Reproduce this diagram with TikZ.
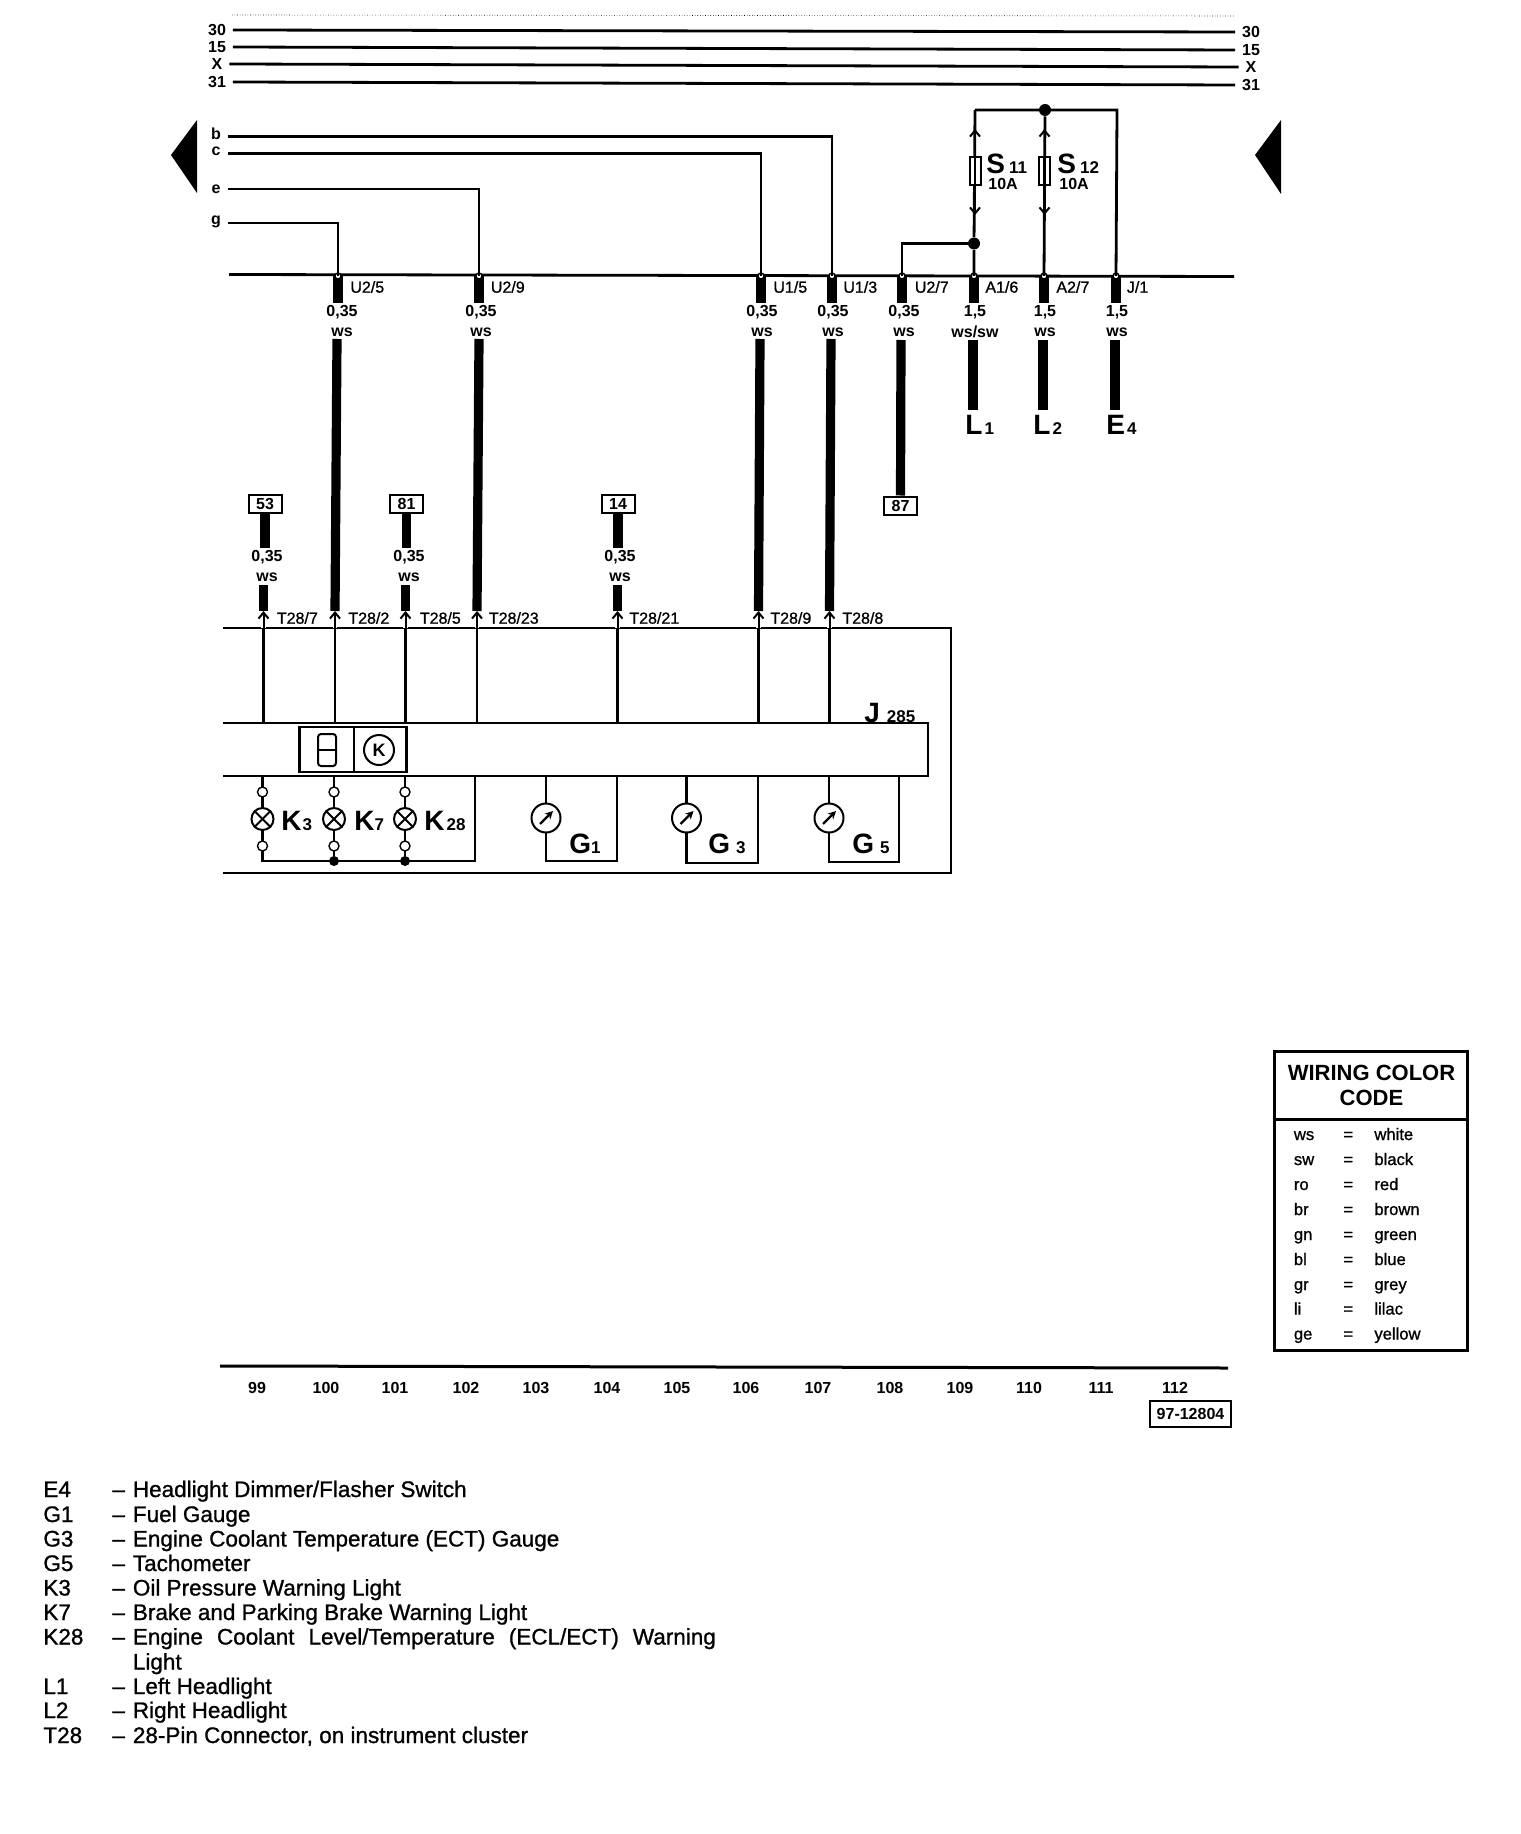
\documentclass[tikz,border=0pt]{standalone}
\usepackage{fontspec}
\setmainfont{Liberation Sans}
\newfontfamily\medfont{Liberation Sans}[RawFeature={embolden=1}]
\usetikzlibrary{calc}
\usetikzlibrary{positioning}
\usetikzlibrary{arrows.meta}
\newcommand{\bigtag}[3][2pt]{#2\hspace{#1}{\fontsize{8.5}{8.5}\selectfont #3}}
\tikzset{
	bus/.style={line width=1.4pt},
	lead/.style={line width=1.2pt},
	heavy/.style={line width=4.6pt},
	pinarrow/.style={line width=1pt,-{Straight Barb[length=3pt,width=5pt]}},
	smalltxt/.style={font=\bfseries\fontsize{8}{8}\selectfont},
	pintxt/.style={font=\medfont\fontsize{8}{8}\selectfont,anchor=west,inner sep=0},
	bigtxt/.style={font=\bfseries\fontsize{14}{14}\selectfont,anchor=base west,inner sep=0},
	termbox/.style={draw,line width=1pt,fill=white,minimum width=16.5pt,minimum height=9pt,inner sep=0,smalltxt},
	ring/.style={circle,draw,fill=white,line width=.7pt,minimum size=3pt,inner sep=0},
	lamp/.style={circle,draw,fill=white,line width=1pt,minimum size=11pt,inner sep=0},
	gaugedial/.style={circle,draw,fill=white,line width=1pt,minimum size=14.5pt,inner sep=0},
	joint/.style={circle,fill=black,minimum size=5pt,inner sep=0},
	fuse/.style={draw,fill=white,line width=1pt,minimum width=5.5pt,minimum height=14pt,inner sep=0},
	listtxt/.style={font=\medfont\fontsize{11.25}{11.25}\selectfont,anchor=base west,inner sep=0},
	codetxt/.style={font=\medfont\fontsize{8.3}{8.3}\selectfont,anchor=base west,inner sep=0},
}
\begin{document}
\begin{tikzpicture}[x=.5pt,y=-.5pt]
	\useasboundingbox (0,0) rectangle (1520,1834);
	% supply rails
	\coordinate (speckW) at (232,15);
	\coordinate (speckE) at (1235,16);
	\draw[densely dotted,line width=.3pt] (speckW) -- (speckE);
	\foreach \n/\txt/\ya/\yb in {a/30/30/32,b/15/47/50,c/X/64/67,d/31/82/85}{
		\node[smalltxt] (railW\n) at (217,\ya) {\txt};
		\node[smalltxt] (railE\n) at (1251,\yb) {\txt};
		\draw[bus] (railW\n.east) -- (railE\n.west);
	}
	% page arrows
	\coordinate (arrLa) at (171,155);
	\coordinate (arrLb) at (197,120);
	\coordinate (arrLc) at (197,193);
	\coordinate (arrRa) at (1255,155);
	\coordinate (arrRb) at (1281,120);
	\coordinate (arrRc) at (1281,194);
	\fill (arrLa) -- (arrLb) -- (arrLc) -- cycle;
	\fill (arrRa) -- (arrRb) -- (arrRc) -- cycle;
	% connector line with its pins
	\coordinate (mainW) at (229,274.5);
	\coordinate (mainE) at (1234,276.5);
	\draw[bus] (mainW) -- (mainE);
	\foreach \p/\xs/\xg/\xl/\pin/\size/\colr in {
		u25/338/342/350/{U2/5}/{0,35}/ws,
		u29/479/481/490.5/{U2/9}/{0,35}/ws,
		u15/761/762/773/{U1/5}/{0,35}/ws,
		u13/832/833/843/{U1/3}/{0,35}/ws,
		u27/902/904/914.5/{U2/7}/{0,35}/ws,
		a16/974/975/985/{A1/6}/{1,5}/{ws/sw},
		a27/1044/1045/1056/{A2/7}/{1,5}/ws,
		j1/1116/1117/1126.5/{J/1}/{1,5}/ws}{
		\coordinate (top\p) at (\xs,276);
		\coordinate (stub\p) at (\xs,303);
		\draw[heavy] (top\p) -- (stub\p);
		\node[ring] (ring\p) at (top\p) {};
		\node[pintxt] (pin\p) at (\xl,287) {\pin};
		\node[smalltxt] (size\p) at (\xg,312) {\size};
		\node[smalltxt] (colr\p) at (\xg,332) {\colr};
	}
	% branches coming in from the left
	\node[smalltxt] (labb) at (216,134) {b};
	\node[smalltxt] (labc) at (216,151) {c};
	\node[smalltxt] (labe) at (216,189) {e};
	\node[smalltxt] (labg) at (216,222) {g};
	\coordinate (bendb) at (832,136.5);
	\coordinate (bendc) at (761,153.5);
	\coordinate (bende) at (479,189);
	\coordinate (bendg) at (338,223);
	\draw[bus] (labb.east |- bendb) -- (bendb) -- (topu13);
	\draw[bus] (labc.east |- bendc) -- (bendc) -- (topu15);
	\draw[bus] (labe.east |- bende) -- (bende) -- (topu29);
	\draw[bus] (labg.east |- bendg) -- (bendg) -- (topu25);
	% fuses
	\coordinate (feedL) at (975,110);
	\coordinate (feedR) at (1117,110);
	\node[joint,minimum size=6pt] (feedJ) at (1045,110) {};
	\node[joint,minimum size=6pt] (splitJ) at (974,243.5) {};
	\coordinate (splitC) at (902,243.5);
	\draw[bus] (feedL) -- (feedR) -- (topj1);
	\draw[bus] (feedL) -- (splitJ) -- (topa16);
	\draw[bus] (feedJ) -- (topa27);
	\draw[bus] (splitJ) -- (splitC) -- (topu27);
	\node[fuse] (fusea) at (975,171) {};
	\node[fuse] (fuseb) at (1044.5,171) {};
	\draw[lead] (fusea.north) -- (fusea.south);
	\draw[lead] (fuseb.north) -- (fuseb.south);
	\foreach \f in {a,b}{
		\path (fuse\f.north) ++(0,-27) coordinate (tipU\f);
		\path (fuse\f.south) ++(0,29) coordinate (tipD\f);
		\draw[pinarrow] (fuse\f.north) -- (tipU\f);
		\draw[pinarrow] (fuse\f.south) -- (tipD\f);
	}
	\node[bigtxt] (s11) at (986,174) {\bigtag{S}{11}};
	\node[bigtxt] (s12) at (1057,174) {\bigtag{S}{12}};
	\node[smalltxt,anchor=base west,inner sep=0] (amp11) at (988,190) {10A};
	\node[smalltxt,anchor=base west,inner sep=0] (amp12) at (1059,190) {10A};
	% wires to the headlights and switch
	\node[bigtxt] (l1) at (965,435) {\bigtag[1pt]{L}{1}};
	\node[bigtxt] (l2) at (1033,435) {\bigtag[1pt]{L}{2}};
	\node[bigtxt] (e4) at (1106,435) {\bigtag[1pt]{E}{4}};
	\foreach \p/\xa in {a16/973,a27/1043,j1/1115}{
		\coordinate (from\p) at (\xa,340);
		\coordinate (to\p) at (\xa,410);
		\draw[heavy] (from\p) -- (to\p);
	}
	\node[termbox] (t87) at (900.5,505.5) {87};
	\coordinate (fromu27) at (901,340);
	\draw[heavy] (fromu27) -- (t87.north);
	% cluster outline
	\coordinate (boxNW) at (223,628);
	\coordinate (boxNE) at (951,628);
	\coordinate (boxSE) at (951,873);
	\coordinate (boxSW) at (223,873);
	\coordinate (barNW) at (223,723);
	\coordinate (barNE) at (928,723);
	\coordinate (barSE) at (928,776);
	\coordinate (barSW) at (223,776);
	\draw[bus] (boxNW) -- (boxNE) -- (boxSE) -- (boxSW);
	\draw[bus] (barNW) -- (barNE) -- (barSE) -- (barSW);
	\node[bigtxt] (j285) at (864,722) {\bigtag[3.5pt]{J}{285}};
	% pins of the cluster connector
	\foreach \i/\xa/\xl/\pin in {
		t7/263.5/276.5/{T28/7},
		t2/335/348/{T28/2},
		t5/405.5/419.5/{T28/5},
		t23/477/488.5/{T28/23},
		t21/617.5/629/{T28/21},
		t9/758.5/770/{T28/9},
		t8/829.5/842/{T28/8}}{
		\coordinate (rail\i) at (\xa,628);
		\coordinate (tip\i) at (\xa,611);
		\coordinate (bar\i) at (\xa,723);
		\draw[lead] (rail\i) -- (bar\i);
		\node[pintxt] (pin\i) at (\xl,618) {\pin};
	}
	% long wires into the cluster
	\foreach \p/\i/\xa in {u25/t2/337,u29/t23/479,u15/t9/760,u13/t8/831}{
		\coordinate (low\p) at (\xa,339);
		\draw[heavy] (low\p) -- (tip\i);
	}
	% short wires with a reference box
	\foreach \i/\xa/\xg/\num in {t7/265/267/53,t5/406.5/409/81,t21/618/620/14}{
		\node[termbox] (box\i) at (\xa,504) {\num};
		\coordinate (stub\i) at (\xa,548);
		\coordinate (cont\i) at (\xa,585);
		\draw[heavy] (box\i.south) -- (stub\i);
		\draw[heavy] (tip\i |- cont\i) -- (tip\i);
		\node[smalltxt] (size\i) at (\xg,557) {0,35};
		\node[smalltxt] (colr\i) at (\xg,577) {ws};
	}
	\foreach \i in {t7,t2,t5,t23,t21,t9,t8}{
		\draw[pinarrow,white,line width=2.4pt] (rail\i) -- (tip\i);
		\draw[pinarrow] (rail\i) -- (tip\i);
	}
	% display
	\node[draw,line width=1.3pt,minimum width=53.5pt,minimum height=22.5pt,inner sep=0] (disp) at (353,749.5) {};
	\draw[line width=1pt] (354,727) coordinate (dispN) -- (354,772) coordinate (dispS);
	\node[draw,line width=1pt,rounded corners=1.5pt,minimum width=9pt,minimum height=16pt,inner sep=0] (seg) at (327,750) {};
	\draw[line width=1pt] (seg.west) -- (seg.east);
	\node[circle,draw,line width=1pt,minimum size=15pt,inner sep=0,font=\bfseries\fontsize{9}{9}\selectfont] (kdial) at (379,750) {K};
	% warning lights
	\coordinate (lampEnd) at (475,861);
	\coordinate (lampBar) at (475,776);
	\coordinate (k3foot) at (262.5,861);
	\coordinate (k3head) at (262.5,776);
	\coordinate (k7head) at (334,776);
	\coordinate (k28head) at (405,776);
	\node[joint] (k7foot) at (334,861) {};
	\node[joint] (k28foot) at (405,861) {};
	\draw[lead] (k3head) -- (k3foot) -- (lampEnd) -- (lampBar);
	\draw[lead] (k7head) -- (k7foot);
	\draw[lead] (k28head) -- (k28foot);
	\foreach \k/\xa in {k3/262.5,k7/334,k28/405}{
		\node[ring,minimum size=5pt] (\k up) at (\xa,792) {};
		\node[ring,minimum size=5pt] (\k dn) at (\xa,846) {};
		\node[lamp] (\k lamp) at (\xa,819) {};
		\draw[line width=1pt] (\k lamp.45) -- (\k lamp.225);
		\draw[line width=1pt] (\k lamp.135) -- (\k lamp.315);
	}
	\node[bigtxt] (k3) at (281,830) {\bigtag[.5pt]{K}{3}};
	\node[bigtxt] (k7) at (354,830) {\bigtag[0pt]{K}{7}};
	\node[bigtxt] (k28) at (424,830) {\bigtag[1pt]{K}{28}};
	% gauges
	\foreach \g/\xa/\xb/\yb in {g1/546/617/861,g3/686.5/758/863,g5/829/899/862}{
		\coordinate (\g a) at (\xa,776);
		\coordinate (\g b) at (\xa,\yb);
		\coordinate (\g c) at (\xb,\yb);
		\coordinate (\g d) at (\xb,776);
		\draw[lead] (\g a) -- (\g b) -- (\g c) -- (\g d);
		\node[gaugedial] (\g dial) at (\xa,818) {};
		\draw[line width=1.1pt,-{Stealth[length=4pt,width=4pt]}] ($(\g dial)+(-6,6)$) -- ($(\g dial)+(7,-7)$);
	}
	\node[bigtxt] (g1) at (569,853) {\bigtag[0pt]{G}{1}};
	\node[bigtxt] (g3) at (708,853) {\bigtag[3pt]{G}{3}};
	\node[bigtxt] (g5) at (852,853) {\bigtag[3pt]{G}{5}};
	% colour code table
	\node[draw,line width=1.5pt,minimum width=96.5pt,minimum height=149.5pt,inner sep=0] (codebox) at (1370.5,1200.5) {};
	\coordinate (codediv) at (1370.5,1119);
	\draw[line width=1.5pt] (codebox.west |- codediv) -- (codebox.east |- codediv);
	\node[font=\bfseries\fontsize{11}{11}\selectfont] (codeA) at (1371.5,1073) {WIRING COLOR};
	\node[font=\bfseries\fontsize{11}{11}\selectfont] (codeB) at (1371.5,1098) {CODE};
	\foreach \a/\b/\yy in {ws/white/1135,sw/black/1160,ro/red/1185,br/brown/1210,gn/green/1235,bl/blue/1260,gr/grey/1285,li/lilac/1309.5,ge/yellow/1334.5}{
		\node[codetxt] (code\a) at (1293.5,\yy+5) {\a};
		\node[codetxt] (eq\a) at (1343,\yy+5) {=};
		\node[codetxt] (name\a) at (1374,\yy+5) {\b};
	}
	% column numbers
	\coordinate (scaleW) at (220,1366);
	\coordinate (scaleE) at (1228,1368);
	\draw[line width=1.5pt] (scaleW) -- (scaleE);
	\foreach \c/\xa in {99/257,100/326,101/395,102/466,103/536,104/607,105/677,106/746,107/818,108/890,109/960,110/1029,111/1101,112/1175}{
		\node[smalltxt] (col\c) at (\xa,1388) {\c};
	}
	\node[draw,line width=1pt,minimum width=40.5pt,minimum height=13pt,inner sep=0,smalltxt] (docno) at (1190.5,1414) {97-12804};
	% list of parts
	\foreach \a/\yy/\b in {
		E4/1489/{Headlight Dimmer/Flasher Switch},
		G1/1514/{Fuel Gauge},
		G3/1538.5/{Engine Coolant Temperature (ECT) Gauge},
		G5/1563/{Tachometer},
		K3/1587.5/{Oil Pressure Warning Light},
		K7/1612/{Brake and Parking Brake Warning Light},
		K28/1636.5/{\makebox[291.5pt][s]{Engine Coolant Level/Temperature (ECL/ECT) Warning}},
		L1/1686/{Left Headlight},
		L2/1710/{Right Headlight},
		T28/1735/{28-Pin Connector, on instrument cluster}}{
		\node[listtxt] (part\a) at (43,\yy+8) {\a};
		\node[listtxt] (dash\a) at (112,\yy+8) {–};
		\node[listtxt] (desc\a) at (132.5,\yy+8) {\b};
	}
	\node[listtxt] (descK28b) at (132.5,1661.5+8) {Light};
\end{tikzpicture}
\end{document}
